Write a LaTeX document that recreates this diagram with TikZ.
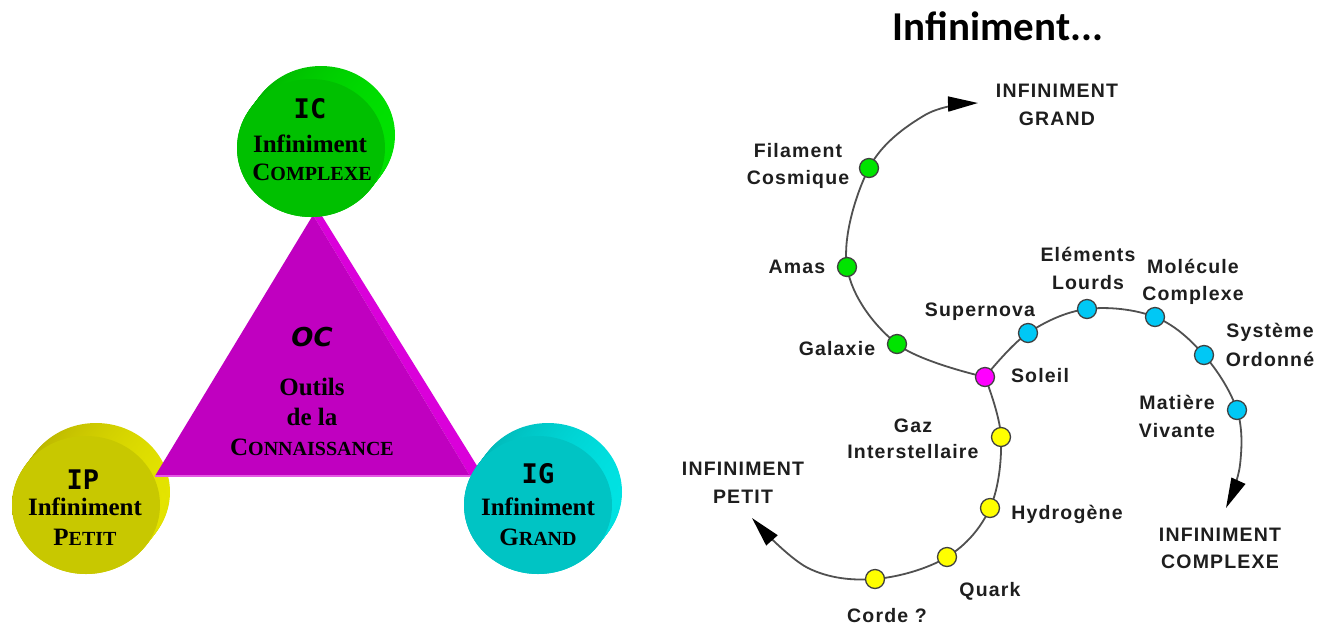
\documentclass[tikz,border=0pt]{standalone}
\usepackage{fontspec}
\setmainfont{Liberation Serif}
\newfontfamily\labfont[LetterSpace=6]{Liberation Sans}
\newfontfamily\titfont{Carlito}
\newfontfamily\codefont{DejaVu Sans Mono}
\newfontfamily\ocfont{DejaVu Sans}
\usetikzlibrary{arrows.meta,calc,shapes.geometric}
\newcommand\minicaps[1]{{\fontsize{20}{24}\selectfont #1}}
\definecolor{icface}{RGB}{0,192,0}
\definecolor{icrimA}{RGB}{0,178,0}
\definecolor{icrimB}{RGB}{0,226,0}
\definecolor{ipface}{RGB}{200,200,0}
\definecolor{iprimA}{RGB}{182,176,0}
\definecolor{iprimB}{RGB}{228,228,0}
\definecolor{igface}{RGB}{0,196,196}
\definecolor{igrimA}{RGB}{0,180,180}
\definecolor{igrimB}{RGB}{0,226,226}
\definecolor{ocface}{RGB}{192,0,192}
\definecolor{ocside}{RGB}{218,0,218}
\definecolor{ocedge}{RGB}{228,90,228}
\definecolor{dotgreen}{RGB}{0,228,0}
\definecolor{dotcyan}{RGB}{0,200,245}
\definecolor{dotyellow}{RGB}{255,255,0}
\definecolor{dotmag}{RGB}{255,0,255}
\definecolor{curvecol}{RGB}{80,80,80}
\definecolor{labcol}{RGB}{30,30,30}
\begin{document}
\begin{tikzpicture}[x=1pt,y=-1pt,
  lab/.style={anchor=base, inner sep=0, text=labcol, font=\labfont\bfseries\fontsize{19.5}{22}\selectfont},
  dot/.style={circle, draw=black!75, line width=1.3pt, minimum size=19pt, inner sep=0},
  spiral/.style={draw=curvecol, line width=1.8pt},
  arrowend/.style={-{Triangle[length=30pt,width=15pt,color=black]}},
  diskface/.style={ellipse, minimum width=148pt, minimum height=138pt, inner sep=0},
  disktxt/.style={anchor=base, inner sep=0, font=\bfseries\fontsize{25}{28}\selectfont},
  diskcode/.style={anchor=base, inner sep=0, font=\codefont\bfseries\fontsize{27}{30}\selectfont}]
\fill[white] (0,0) rectangle (1326,625);
\useasboundingbox (0,0) rectangle (1326,625);

% ---------- left: IP disk ----------
\foreach \k in {0,...,12}{
  \shade[left color=iprimA, right color=iprimB] (86+10-10*\k/12, 505-13+13*\k/12) ellipse [x radius=74pt, y radius=69pt];
}
\node[diskface, fill=ipface] (ip) at (86,505) {};

% ---------- triangle ----------
\coordinate (ta) at (313,215);
\coordinate (tl) at (155,476);
\coordinate (tr) at (470,476);
\coordinate (ta2) at (322,216);
\coordinate (tr2) at (479,469);
\fill[ocside] (ta) -- (ta2) -- (tr2) -- (tr) -- cycle;
\fill[ocface] (ta) -- (tl) -- (tr) -- cycle;
\draw[ocedge, line width=1.2pt] (tl) -- (tr);

% ---------- IC and IG disks ----------
\foreach \k in {0,...,12}{
  \shade[left color=icrimA, right color=icrimB] (311+10-10*\k/12, 148-13+13*\k/12) ellipse [x radius=74pt, y radius=69pt];
}
\node[diskface, fill=icface] (ic) at (311,148) {};
\foreach \k in {0,...,12}{
  \shade[left color=igrimA, right color=igrimB] (538+10-10*\k/12, 505-13+13*\k/12) ellipse [x radius=74pt, y radius=69pt];
}
\node[diskface, fill=igface] (ig) at (538,505) {};

% texts
\node[diskcode] (ic-a) at (310,118) {IC};
\node[disktxt] (ic-b) at (310,152) {Infiniment};
\node[disktxt] (ic-c) at (312,180) {C\minicaps{OMPLEXE}};

\node[diskcode] (ip-a) at (83,489) {IP};
\node[disktxt] (ip-b) at (85,515) {Infiniment};
\node[disktxt] (ip-c) at (85,545) {P\minicaps{ETIT}};

\node[diskcode] (ig-a) at (538,483) {IG};
\node[disktxt] (ig-b) at (538,515) {Infiniment};
\node[disktxt] (ig-c) at (538,545) {G\minicaps{RAND}};

\node[anchor=base, inner sep=0, font=\ocfont\bfseries\itshape\fontsize{26}{30}\selectfont] (oc-a) at (312,346) {OC};
\node[disktxt] (oc-b) at (312,395) {Outils};
\node[disktxt] (oc-c) at (312,425) {de la};
\node[disktxt] (oc-d) at (312,455) {C\minicaps{ONNAISSANCE}};

% ---------- right: spiral ----------
\node[anchor=base, inner sep=0, text=black, font=\titfont\bfseries\fontsize{41}{44}\selectfont] (title) at (998,40) {Infiniment...};

\coordinate (p-sol) at (985,377);
\coordinate (p-gal) at (897,344);
\coordinate (p-amas) at (847,267);
\coordinate (p-fil) at (869,168);
\coordinate (q1) at (925,115);
\coordinate (gtip) at (978,103);
\coordinate (p-gaz) at (1001,437);
\coordinate (p-hyd) at (990,508);
\coordinate (p-quark) at (947,557);
\coordinate (p-corde) at (875,579);
\coordinate (q2) at (808,568);
\coordinate (ptip) at (752,518);
\coordinate (p-sup) at (1028,333);
\coordinate (p-ele) at (1087,309);
\coordinate (p-mol) at (1155,317);
\coordinate (p-sys) at (1204,355);
\coordinate (p-mat) at (1237,410);
\coordinate (q3) at (1240,465);
\coordinate (ctip) at (1226,508);

\draw[spiral, arrowend] plot[smooth, tension=0.6] coordinates {(p-sol) (p-gal) (p-amas) (p-fil) (q1) (gtip)};
\draw[spiral, arrowend] plot[smooth, tension=0.6] coordinates {(p-sol) (p-gaz) (p-hyd) (p-quark) (p-corde) (q2) (ptip)};
\draw[spiral, arrowend] plot[smooth, tension=0.6] coordinates {(p-sol) (p-sup) (p-ele) (p-mol) (p-sys) (p-mat) (q3) (ctip)};

\node[dot, fill=dotgreen] (fil) at (p-fil) {};
\node[dot, fill=dotgreen] (amas) at (p-amas) {};
\node[dot, fill=dotgreen] (gal) at (p-gal) {};
\node[dot, fill=dotmag] (sol) at (p-sol) {};
\node[dot, fill=dotcyan] (sup) at (p-sup) {};
\node[dot, fill=dotcyan] (ele) at (p-ele) {};
\node[dot, fill=dotcyan] (mol) at (p-mol) {};
\node[dot, fill=dotcyan] (sys) at (p-sys) {};
\node[dot, fill=dotcyan] (mat) at (p-mat) {};
\node[dot, fill=dotyellow] (gaz) at (p-gaz) {};
\node[dot, fill=dotyellow] (hyd) at (p-hyd) {};
\node[dot, fill=dotyellow] (quark) at (p-quark) {};
\node[dot, fill=dotyellow] (corde) at (p-corde) {};

% labels
\node[lab] (l-ig1) at (1057,97) {INFINIMENT};
\node[lab] (l-ig2) at (1057,125) {GRAND};
\node[lab] (l-fil1) at (798,157) {Filament};
\node[lab] (l-fil2) at (798,184) {Cosmique};
\node[lab] (l-amas) at (797,273) {Amas};
\node[lab] (l-gal) at (837,355) {Galaxie};
\node[lab] (l-sup) at (980,316) {Supernova};
\node[lab] (l-sol) at (1040,382) {Soleil};
\node[lab] (l-ele1) at (1088,261) {Eléments};
\node[lab] (l-ele2) at (1088,289) {Lourds};
\node[lab] (l-mol1) at (1193,273) {Molécule};
\node[lab] (l-mol2) at (1193,300) {Complexe};
\node[lab] (l-sys1) at (1270,337) {Système};
\node[lab] (l-sys2) at (1270,366) {Ordonné};
\node[lab] (l-mat1) at (1177,409) {Matière};
\node[lab] (l-mat2) at (1177,437) {Vivante};
\node[lab] (l-ic1) at (1220,541) {INFINIMENT};
\node[lab] (l-ic2) at (1220,568) {COMPLEXE};
\node[lab] (l-gaz1) at (913,432) {Gaz};
\node[lab] (l-gaz2) at (913,458) {Interstellaire};
\node[lab] (l-ip1) at (743,475) {INFINIMENT};
\node[lab] (l-ip2) at (743,503) {PETIT};
\node[lab] (l-hyd) at (1067,519) {Hydrogène};
\node[lab] (l-quark) at (990,596) {Quark};
\node[lab] (l-corde) at (887,622) {Corde ?};
\end{tikzpicture}
\end{document}
